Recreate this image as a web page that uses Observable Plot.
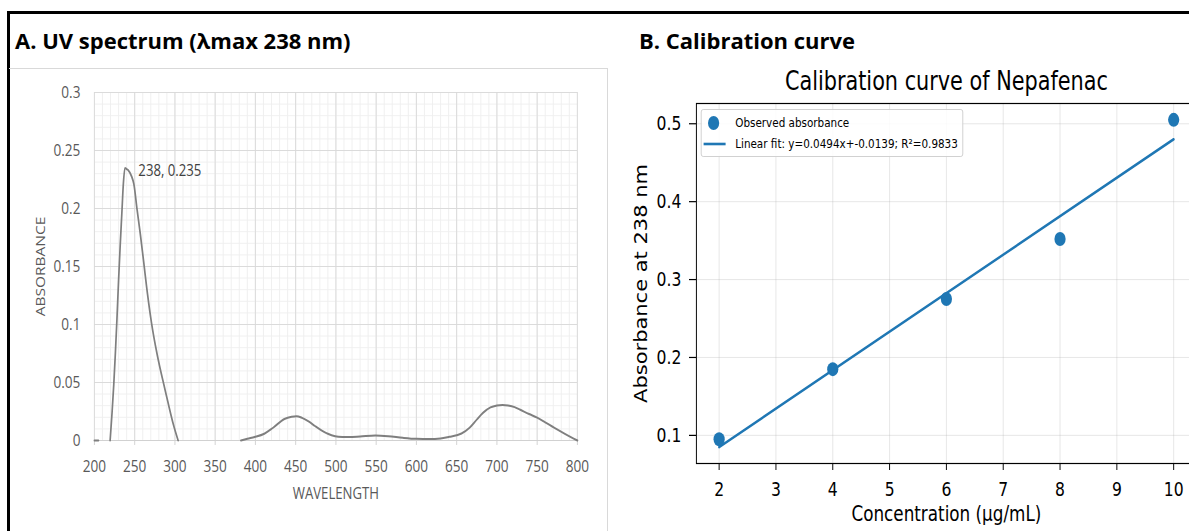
<!DOCTYPE html>
<html><head><meta charset="utf-8">
<script src="https://cdn.jsdelivr.net/npm/d3@7"></script>
<script src="https://cdn.jsdelivr.net/npm/@observablehq/plot@0.6"></script>
<style>
html,body{margin:0;padding:0;background:#fff;}
#page{position:relative;width:1189px;height:531px;overflow:hidden;background:#fff;}
#frame{position:absolute;left:7px;top:11px;width:1400px;height:700px;border-top:3px solid #000;border-left:3px solid #000;}
.ptitle{position:absolute;font-family:"Open Sans",sans-serif;font-weight:700;font-size:22px;color:#000;line-height:22px;white-space:nowrap;}
#boxA{position:absolute;left:9px;top:68px;width:598px;height:700px;border-top:1px solid #d9d9d9;border-right:1px solid #d9d9d9;}
#wrapA{position:absolute;left:0;top:60px;width:716px;height:471px;transform-origin:0 0;}
#wrapB{position:absolute;left:600px;top:50px;width:780px;height:481px;transform-origin:0 0;}
#wrapA > svg, #wrapB > svg{max-width:none !important;}
#legendB{position:absolute;box-sizing:border-box;border:1px solid #cccccc;border-radius:3px;background:rgba(255,255,255,0.85);font-family:"DejaVu Sans",sans-serif;font-size:13px;color:#000;}
#legendB .row{position:absolute;left:0;white-space:nowrap;line-height:16px;}
#legendB svg{position:absolute;left:0;top:0;overflow:visible;}
</style>
</head><body>
<div id="page">
  <div id="frame"></div>
  <div id="boxA"></div>
  <div class="ptitle" id="titleA" style="left:15px;top:29px;"></div>
  <div class="ptitle" id="titleB" style="left:639px;top:29px;"></div>
  <div id="wrapA"></div>
  <div id="wrapB"></div>
</div>
<script>
// ---------- Panel A data (UV spectrum) ----------
const titleA = "A. UV spectrum (λmax 238 nm)";
const wavelength = [200,205,210,219.5,222,224,226,228,230,232,234,236,238,240,242,246,249,253,257,261,266,271,276,281,286,292,298,304,340,
  382,390,399,411,422,436,445,451,458,466,474,482,490,499,508,516,530,549,565,583,600,616,630,641,650,656,666,675,683,692,700,707,714,722,729,740,750,760,771,785,800];
const absorbance = [0,0,null,0,0.025,0.048,0.075,0.105,0.138,0.168,0.195,0.222,0.235,0.234,0.233,0.228,0.221,0.199,0.178,0.155,0.126,0.101,0.081,0.064,0.049,0.031,0.014,0,null,
  0,0.0015,0.003,0.0058,0.011,0.0185,0.0205,0.021,0.0195,0.0165,0.0125,0.0088,0.0058,0.0037,0.003,0.0029,0.0034,0.0043,0.0037,0.0023,0.0014,0.0012,0.0018,0.0032,0.0045,0.006,0.011,0.018,0.024,0.0285,0.0302,0.0307,0.0302,0.0288,0.0265,0.0228,0.0197,0.0157,0.011,0.0055,0];
const xTicksA = [200,250,300,350,400,450,500,550,600,650,700,750,800];
const yTicksA = [0,0.05,0.1,0.15,0.2,0.25,0.3];
const xMinorA = d3.range(200, 801, 10);
const yMinorA = d3.range(0, 31, 1).map(d => d / 100);
const peakW = [238], peakA = [0.235], peakText = ["238, 0.235"];
const xLabelA = "WAVELENGTH", yLabelA = "ABSORBANCE";

// ---------- Panel B data (calibration) ----------
const titleB = "B. Calibration curve";
const plotTitleB = "Calibration curve of Nepafenac";
const concentration = [2,4,6,8,10];
const observed = [0.095,0.185,0.275,0.352,0.505];
const fitSlope = 0.0494, fitIntercept = -0.0139, fitR2 = 0.9833;
const xTicksB = [2,3,4,5,6,7,8,9,10];
const yTicksB = [0.1,0.2,0.3,0.4,0.5];
const legendLabels = ["Observed absorbance", `Linear fit: y=${fitSlope}x+${fitIntercept}; R²=${fitR2}`];
const xLabelB = "Concentration (µg/mL)", yLabelB = "Absorbance at 238 nm";

document.getElementById("titleA").textContent = titleA;
document.getElementById("titleB").textContent = titleB;

// ---------- Panel A ----------
const sA = 0.85;
const wA = 608 / sA;
const spectrum = wavelength.map((w, i) => ({w, a: absorbance[i]}));
const peak = peakW.map((w, i) => ({w, a: peakA[i], t: peakText[i]}));
const plotA = Plot.plot({
  width: wA, height: 471,
  marginLeft: 94 / sA, marginRight: wA - 577 / sA, marginTop: 32, marginBottom: 91,
  x: {domain: [200, 800]},
  y: {domain: [0, 0.3]},
  style: {fontFamily: "'Open Sans', sans-serif", fontSize: "16px", background: "transparent", overflow: "visible"},
  marks: [
    Plot.gridX(xMinorA, {stroke: "#efefef", strokeOpacity: 1}),
    Plot.gridY(yMinorA, {stroke: "#efefef", strokeOpacity: 1}),
    Plot.gridX(xTicksA, {stroke: "#d9d9d9", strokeOpacity: 1}),
    Plot.gridY(yTicksA, {stroke: "#d9d9d9", strokeOpacity: 1}),
    Plot.ruleY([0], {stroke: "#d0d0d0"}),
    Plot.axisX({ticks: xTicksA, tickSize: 5, tickPadding: 15, stroke: "#d0d0d0", fill: "#595959", fontSize: 16, label: null}),
    Plot.axisY({ticks: yTicksA, tickSize: 0, tickPadding: 16.5, fill: "#595959", fontSize: 16, label: null, tickFormat: d => String(d)}),
    Plot.line(spectrum, {x: "w", y: "a", stroke: "#7f7f7f", strokeWidth: 2, curve: "monotone-x"}),
    Plot.text(peak, {x: "w", y: "a", text: "t", textAnchor: "start", dx: 15.7, dy: 3, fill: "#404040", fontSize: 15.5}),
    Plot.text([xLabelA], {frameAnchor: "bottom", textAnchor: "middle", lineAnchor: "middle", dy: 54, fill: "#595959", fontSize: 15.5}),
    Plot.text([yLabelA], {frameAnchor: "left", textAnchor: "middle", lineAnchor: "middle", dx: -63.5, rotate: -90, fill: "#595959", fontSize: 15.5, letterSpacing: 0.6})
  ]
});
const wrapA = document.getElementById("wrapA");
wrapA.style.transform = `scale(${sA},1)`;
wrapA.appendChild(plotA);

// ---------- Panel B ----------
const sB = 0.8;
const wB = 780;
const pts = concentration.map((c, i) => ({c, a: observed[i]}));
const fitEnds = [d3.min(concentration), d3.max(concentration)];
const fit = fitEnds.map(c => ({c, a: fitSlope * c + fitIntercept}));
const xExt = d3.extent(concentration);
const yExt = d3.extent([...observed, ...fit.map(d => d.a)]);
const mx = (xExt[1] - xExt[0]) * 0.05, my = (yExt[1] - yExt[0]) * 0.05;
const blue = "#1f77b4";
const plotB = Plot.plot({
  width: wB, height: 481,
  marginLeft: 120, marginRight: wB - 745, marginTop: 53, marginBottom: 68,
  x: {domain: [xExt[0] - mx, xExt[1] + mx]},
  y: {domain: [yExt[0] - my, yExt[1] + my]},
  style: {fontFamily: "'DejaVu Sans', sans-serif", fontSize: "19.5px", color: "#000", background: "transparent", overflow: "visible"},
  marks: [
    Plot.gridX(xTicksB, {stroke: "#b0b0b0", strokeOpacity: 0.35, strokeWidth: 1}),
    Plot.gridY(yTicksB, {stroke: "#b0b0b0", strokeOpacity: 0.35, strokeWidth: 1}),
    Plot.line(fit, {x: "c", y: "a", stroke: blue, strokeWidth: 2.6}),
    Plot.dot(pts, {x: "c", y: "a", r: 7, fill: blue, stroke: "none"}),
    Plot.frame({stroke: "#000", strokeWidth: 1.2}),
    Plot.axisX({ticks: xTicksB, tickSize: 7, tickPadding: 12, stroke: "#000", strokeWidth: 1.2, fill: "#000", fontSize: 19.5, label: null}),
    Plot.axisY({ticks: yTicksB, tickSize: 8.75, tickPadding: 10, stroke: "#000", strokeWidth: 1.2, fill: "#000", fontSize: 19.5, label: null, tickFormat: d => String(d)}),
    Plot.text([plotTitleB], {frameAnchor: "top", textAnchor: "middle", lineAnchor: "middle", dy: -22.3, fontSize: 26, fill: "#000"}),
    Plot.text([xLabelB], {frameAnchor: "bottom", textAnchor: "middle", lineAnchor: "middle", dy: 51, fontSize: 21, fill: "#000"}),
    Plot.text([yLabelB], {frameAnchor: "left", textAnchor: "middle", lineAnchor: "middle", dx: -68.75, rotate: -90, fontSize: 21, fill: "#000"})
  ]
});
const wrapB = document.getElementById("wrapB");
wrapB.style.transform = `scale(${sB},1)`;
wrapB.appendChild(plotB);

// legend (overlay inside axes, upper left)
const leg = document.createElement("div");
leg.id = "legendB";
leg.style.left = "126px"; leg.style.top = "59px"; leg.style.width = "328px"; leg.style.height = "48px";
const ns = "http://www.w3.org/2000/svg";
const sw = document.createElementNS(ns, "svg");
sw.setAttribute("width", "40"); sw.setAttribute("height", "48");
const c = document.createElementNS(ns, "circle");
c.setAttribute("cx", "15"); c.setAttribute("cy", "13"); c.setAttribute("r", "7"); c.setAttribute("fill", blue);
const l = document.createElementNS(ns, "line");
l.setAttribute("x1", "2.5"); l.setAttribute("x2", "30"); l.setAttribute("y1", "34"); l.setAttribute("y2", "34");
l.setAttribute("stroke", blue); l.setAttribute("stroke-width", "2.6");
sw.appendChild(c); sw.appendChild(l);
leg.appendChild(sw);
legendLabels.forEach((t, i) => {
  const r = document.createElement("div");
  r.className = "row";
  r.style.left = "42px";
  r.style.top = (i === 0 ? 5 : 25.5) + "px";
  r.textContent = t;
  leg.appendChild(r);
});
wrapB.appendChild(leg);
</script>
</body></html>
